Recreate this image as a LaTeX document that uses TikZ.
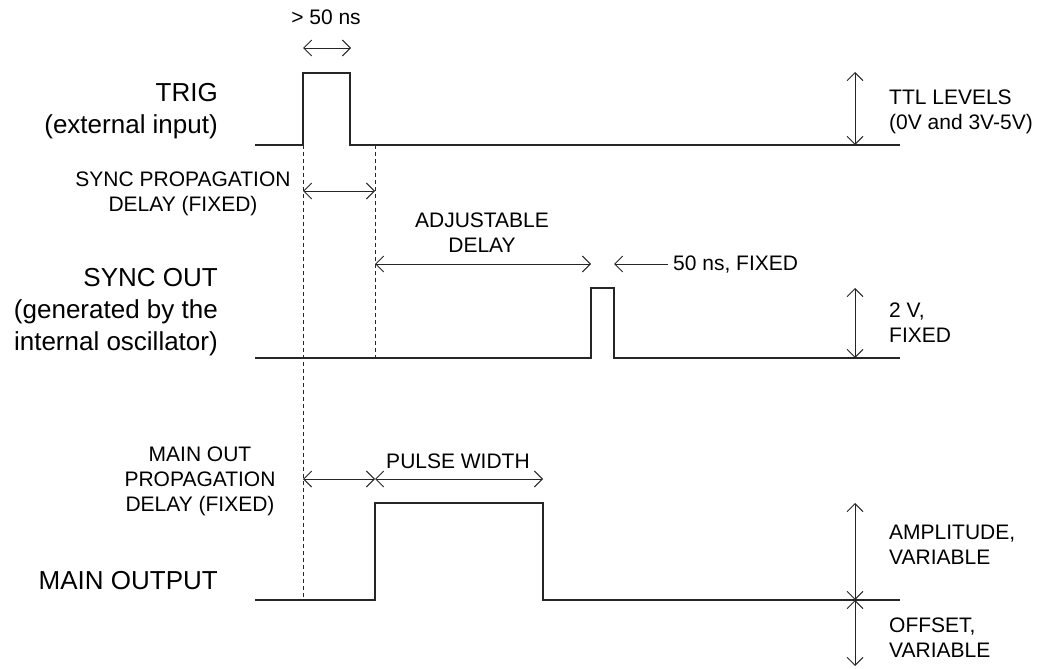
\documentclass[tikz,border=0pt]{standalone}
\usepackage{fontspec}
\setmainfont{Liberation Sans}
\usetikzlibrary{arrows.meta, positioning}

\begin{document}
\begin{tikzpicture}[
    x=1pt, y=-1pt,
    >={Straight Barb[length=8pt, width=16pt]},
    wave/.style={draw=black!85, line width=1.1pt},
    guide/.style={draw=black!85, line width=0.8pt, dash pattern=on 4pt off 3pt},
    dim/.style={draw=black!85, line width=0.9pt, <->},
    biglabel/.style={inner sep=0pt, font=\fontsize{26}{32}\selectfont},
    smalllabel/.style={inner sep=0pt, font=\fontsize{21}{25}\selectfont}
]
\useasboundingbox (0,0) rectangle (1037,669);

% ==================== TRIG ====================
\coordinate (trig_start) at (255,145);
\coordinate (trig_rise)  at (303,145);
\coordinate (trig_high)  at (303,73);
\coordinate (trig_fallh) at (350,73);
\coordinate (trig_fall)  at (350,145);
\coordinate (trig_end)   at (900,145);
\draw[wave] (trig_start) -- (trig_rise) -- (trig_high) -- (trig_fallh) -- (trig_fall) -- (trig_end);

\node[biglabel, anchor=north east, align=right] (lbl_trig) at (218,83) {TRIG\\(external input)};

\coordinate (w50_l) at (303,48);
\coordinate (w50_r) at (351,48);
\draw[dim] (w50_l) -- (w50_r);
\node[smalllabel, anchor=base] (lbl_w50) at (326,25) {> 50 ns};

\coordinate (ttl_lo) at (855,145);
\coordinate (ttl_hi) at (855,72);
\draw[dim] (ttl_lo) -- (ttl_hi);
\node[smalllabel, anchor=north west, align=left] (lbl_ttl) at (889,90) {TTL LEVELS\\(0V and 3V-5V)};

% ==================== SYNC OUT ====================
\coordinate (sync_start) at (255,358);
\coordinate (sync_rise)  at (591,358);
\coordinate (sync_high)  at (591,288);
\coordinate (sync_fallh) at (614,288);
\coordinate (sync_fall)  at (614,358);
\coordinate (sync_end)   at (900,358);
\draw[wave] (sync_start) -- (sync_rise) -- (sync_high) -- (sync_fallh) -- (sync_fall) -- (sync_end);

\node[biglabel, anchor=north east, align=right] (lbl_sync) at (218,268) {SYNC OUT\\(generated by the\\internal oscillator)};

\coordinate (sprop_l) at (303,191);
\coordinate (sprop_r) at (375,191);
\draw[dim] (sprop_l) -- (sprop_r);
\node[smalllabel, anchor=north, align=center] (lbl_sprop) at (183,172) {SYNC PROPAGATION\\DELAY (FIXED)};

\coordinate (adj_l) at (375,264);
\coordinate (adj_r) at (591,264);
\draw[dim] (adj_l) -- (adj_r);
\node[smalllabel, anchor=north, align=center] (lbl_adj) at (482,213) {ADJUSTABLE\\DELAY};

\coordinate (w50f_tail) at (668,264);
\coordinate (w50f_tip)  at (614,264);
\draw[dim, -> ] (w50f_tail) -- (w50f_tip);
\node[smalllabel, anchor=base west] (lbl_w50f) at (673,270) {50 ns, FIXED};

\coordinate (two_lo) at (855,358);
\coordinate (two_hi) at (855,288);
\draw[dim] (two_lo) -- (two_hi);
\node[smalllabel, anchor=north west, align=left] (lbl_two) at (889,303) {2 V,\\FIXED};

% ==================== MAIN OUTPUT ====================
\coordinate (main_start) at (255,600);
\coordinate (main_rise)  at (375,600);
\coordinate (main_high)  at (375,503);
\coordinate (main_fallh) at (543,503);
\coordinate (main_fall)  at (543,600);
\coordinate (main_end)   at (900,600);
\draw[wave] (main_start) -- (main_rise) -- (main_high) -- (main_fallh) -- (main_fall) -- (main_end);

\node[biglabel, anchor=base east] (lbl_main) at (218,589) {MAIN OUTPUT};

\coordinate (mprop_l) at (303,479);
\coordinate (mprop_r) at (375,479);
\coordinate (pw_r)    at (543,479);
\draw[dim] (mprop_l) -- (mprop_r);
\draw[dim] (mprop_r) -- (pw_r);
\node[smalllabel, anchor=north, align=center] (lbl_mprop) at (200,447) {MAIN OUT\\PROPAGATION\\DELAY (FIXED)};
\node[smalllabel, anchor=base] (lbl_pw) at (458,468) {PULSE WIDTH};

\coordinate (amp_hi)  at (855,503);
\coordinate (amp_mid) at (855,600);
\coordinate (off_lo)  at (855,666);
\draw[dim] (amp_mid) -- (amp_hi);
\draw[dim] (amp_mid) -- (off_lo);
\node[smalllabel, anchor=north west, align=left] (lbl_amp) at (889,525) {AMPLITUDE,\\VARIABLE};
\node[smalllabel, anchor=north west, align=left] (lbl_off) at (889,618) {OFFSET,\\VARIABLE};

% ==================== GUIDES ====================
\draw[guide] (trig_rise) -- (main_start -| trig_rise);
\coordinate (sync_guide_top) at (375,145);
\draw[guide] (sync_guide_top) -- (sync_start -| sync_guide_top);

\end{tikzpicture}
\end{document}
